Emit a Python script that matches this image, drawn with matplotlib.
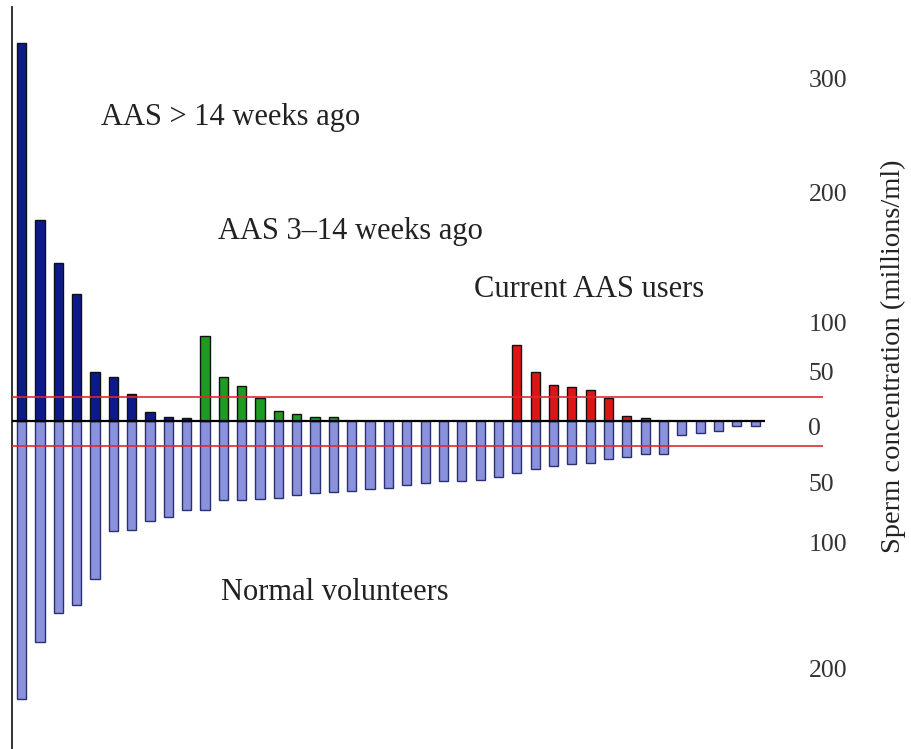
import numpy as np
import matplotlib
matplotlib.use("Agg")
import matplotlib.pyplot as plt
from matplotlib.transforms import ScaledTranslation

plt.rcParams['font.family'] = ['Liberation Serif', 'DejaVu Serif']

# ---------------- data (millions/ml) ----------------
# AAS users (plotted upward); group: 0 = >14 weeks ago, 1 = 3-14 weeks ago, 2 = current, None = no value
aas_values = [326, 175, 142, 118, 45, 40, 25, 8, 4, 3,
              81, 40, 32, 21, 9, 7, 4, 4,
              0, 0, 0, 0, 0, 0, 0, 0, 0,
              72, 45, 33, 31, 28, 21, 5, 3,
              0, 0, 0, 0, 0, 0]
aas_group = ([0] * 10 + [1] * 8 + [None] * 9 + [2] * 8 + [None] * 6)

# Normal volunteers (plotted downward)
normal_values = [229, 183, 160, 154, 133, 95, 94, 86, 83, 77,
                 77, 69, 69, 68, 67, 65, 63, 62, 61, 60,
                 59, 56, 55, 53, 53, 52, 50, 46, 43, 40,
                 38, 37, 34, 32, 29, 29, 12, 10, 9, 4, 4]

threshold_upper = 22
threshold_lower = -22

tick_values = [-200, -100, -50, 0, 50, 100, 200, 300]
tick_labels = ['200', '100', '50', '0', '50', '100', '200', '300']

group_labels = ['AAS > 14 weeks ago', 'AAS 3\u201314 weeks ago', 'Current AAS users']
normal_label = 'Normal volunteers'
ylabel = 'Sperm concentration (millions/ml)'

group_colors = ['#0d1a8c', '#1f9a22', '#dc1616']
normal_color = '#8a92dc'

# ---------------- custom (piecewise) vertical scale ----------------
_kv = np.array([-1000, -200, -100, -50, 0, 50, 100, 200, 300, 1000], dtype=float)
_kp = np.array([-1234, -242, -116, -56, 0, 55, 104, 234, 348, 1146], dtype=float)

def fwd(v):
    return np.interp(v, _kv, _kp)

def inv(p):
    return np.interp(p, _kp, _kv)

# ---------------- figure ----------------
W, H = 912, 749
fig = plt.figure(figsize=(W / 100, H / 100), dpi=100)
ax = fig.add_axes([12.5 / W, 0, (823 - 12.5) / W, (H - 7) / H])
ax.set_yscale('function', functions=(fwd, inv))

n = len(normal_values)
x = np.arange(n)
bw = 0.5

ax.bar(x, [-v for v in normal_values], width=bw, color=normal_color,
       edgecolor='#2b3070', linewidth=1.0, zorder=2)

pos_colors = [group_colors[g] if g is not None else 'none' for g in aas_group]
mask = [g is not None for g in aas_group]
ax.bar(x[mask], np.array(aas_values)[mask], width=bw,
       color=np.array(pos_colors, dtype=object)[mask].tolist(),
       edgecolor='#101010', linewidth=1.0, zorder=2)

ax.axhline(threshold_upper, color='#e3262c', lw=1.2, zorder=3)
ax.axhline(threshold_lower, color='#e3262c', lw=1.2, zorder=3)
ax.hlines(0, -0.5, n - 0.45, color='black', lw=1.6, zorder=4)

ax.set_xlim(-0.5, 43.7)
ax.set_ylim(-269, 358)

for s in ['top', 'right', 'bottom']:
    ax.spines[s].set_visible(False)
ax.spines['left'].set_linewidth(1.3)
ax.spines['left'].set_color('#222222')
ax.set_xticks([])

ax.yaxis.tick_right()
ax.set_yticks(tick_values)
ax.set_yticklabels(tick_labels)
ax.tick_params(axis='y', length=0, pad=-10.5, labelsize=18.5, labelcolor='#333333')
off = ScaledTranslation(0, -5 / 100, fig.dpi_scale_trans)
for t in ax.yaxis.get_major_ticks():
    t.label2.set_transform(t.label2.get_transform() + off)
    t.label2.set_horizontalalignment('left')

# annotations (positions in figure pixels)
def ftext(px, py, s, **kw):
    fig.text(px / W, 1 - py / H, s, **kw)

ftext(231, 125, group_labels[0], ha='center', va='baseline', fontsize=22, color='#222222')
ftext(350, 239, group_labels[1], ha='center', va='baseline', fontsize=22, color='#222222')
ftext(589, 297, group_labels[2], ha='center', va='baseline', fontsize=22, color='#222222')
ftext(335, 600, normal_label, ha='center', va='baseline', fontsize=22, color='#222222')
ftext(893, 356, ylabel, ha='center', va='center', rotation=90, fontsize=20.5, color='#222222')

fig.savefig('out.png', dpi=100)
